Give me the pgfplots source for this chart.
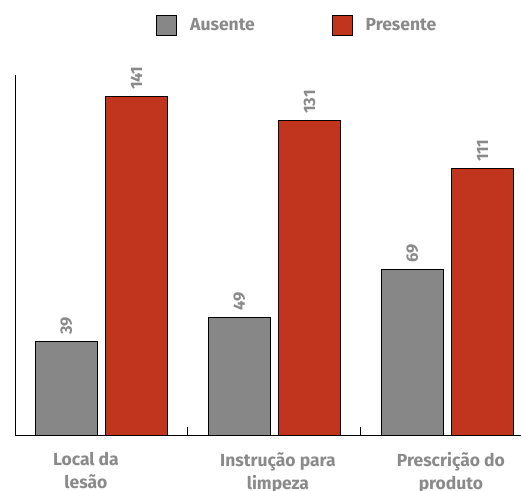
\documentclass[border=0pt]{standalone}
\usepackage{pgfplots}
\pgfplotsset{compat=1.18}
\usepackage{fontspec}
\setmainfont{Fira Sans}
\definecolor{cgray}{HTML}{878787}
\definecolor{cred}{HTML}{C1351E}
\definecolor{ctext}{HTML}{8A8A8A}
\begin{document}
\begin{tikzpicture}
\begin{axis}[
  at={(0,0)}, anchor=south west,
  scale only axis, width=506pt, height=360pt,
  xmin=-0.5, xmax=2.425, ymin=0, ymax=150,
  ybar=8pt, bar width=62pt,
  axis lines=left, axis line style={-, line width=1pt, black},
  ytick=\empty,
  xtick={-0.09,1.02,2.02},
  xticklabels={{Local da\\lesão},{Instrução para\\limpeza},{Prescrição do\\produto}},
  major tick length=0pt,
  extra x ticks={0.5,1.5},
  extra x tick labels={},
  extra x tick style={major tick length=8pt, tick align=inside, tick style={line width=1pt, black}},
  xticklabel style={align=center, font=\fontsize{17.5}{23}\selectfont\bfseries, text=ctext, yshift=-14pt},
  /pgf/number format/assume math mode=true,
  nodes near coords,
  every node near coord/.append style={rotate=90, anchor=west, font=\fontsize{16.5}{18}\selectfont\bfseries, text=ctext, xshift=3pt},
  legend columns=2,
  legend style={draw=none, at={(0.558,1.139)}, anchor=center, font=\fontsize{17.5}{20}\selectfont\bfseries, text=ctext,
    /tikz/every even column/.append style={column sep=75pt},
    /tikz/every odd column/.append style={column sep=11pt}},
  legend image code/.code={\draw[#1, draw=black, line width=0.8pt] (0pt,-10pt) rectangle (20pt,10pt);},
  clip=false,
]
\addplot[fill=cgray, draw=black, line width=0.8pt] coordinates {(0,39) (1,49) (2,69)};
\addplot[fill=cred, draw=black, line width=0.8pt] coordinates {(0,141) (1,131) (2,111)};
\legend{Ausente, Presente}
\end{axis}
\pgfresetboundingbox
\useasboundingbox (-15pt,-55pt) rectangle (506pt,435pt);
\end{tikzpicture}
\end{document}
